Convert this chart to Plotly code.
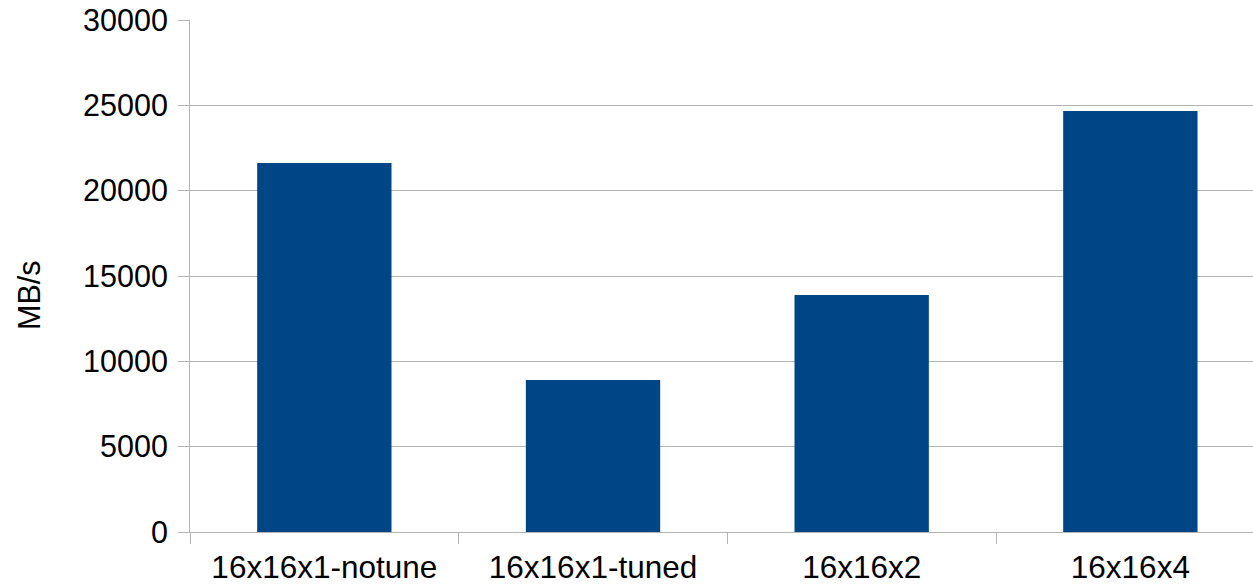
import plotly.graph_objects as go

# Measured throughput per configuration
configs = ["16x16x1-notune", "16x16x1-tuned", "16x16x2", "16x16x4"]
throughput_mbs = [21620, 8900, 13890, 24670]

y_ticks = [0, 5000, 10000, 15000, 20000, 25000, 30000]

BAR_COLOR = "#004586"
GRID_COLOR = "#b3b3b3"
FONT = dict(family="Liberation Sans, Arial, sans-serif", size=30.5, color="#000000")
XFONT = dict(FONT, size=31.5)

fig = go.Figure(
    go.Bar(
        x=configs,
        y=throughput_mbs,
        width=0.5,
        marker=dict(color=BAR_COLOR, line=dict(width=0)),
    )
)

fig.update_layout(
    width=1253,
    height=585,
    margin=dict(l=190, r=0, t=20, b=53),
    paper_bgcolor="white",
    plot_bgcolor="white",
    font=FONT,
    showlegend=False,
    bargap=0.5,
)

fig.update_xaxes(
    type="category",
    range=[-0.5, 3.4565],
    tickson="boundaries",
    ticks="outside",
    ticklen=11,
    tickcolor=GRID_COLOR,
    tickwidth=1,
    showline=True,
    linecolor=GRID_COLOR,
    linewidth=1,
    showgrid=False,
    tickfont=XFONT,
    ticklabelstandoff=7,
    automargin=False,
)

fig.update_yaxes(
    range=[0, 30000],
    tickvals=y_ticks,
    ticktext=[str(v) for v in y_ticks],
    ticks="outside",
    ticklen=11,
    tickcolor=GRID_COLOR,
    tickwidth=1,
    showline=True,
    linecolor=GRID_COLOR,
    linewidth=1,
    showgrid=True,
    gridcolor=GRID_COLOR,
    gridwidth=1,
    zeroline=False,
    tickfont=FONT,
    ticklabelstandoff=4,
    automargin=False,
)

# Axis title placed as a rotated annotation
fig.add_annotation(
    text="MB/s",
    xref="paper",
    yref="paper",
    x=-190 / 1063 + 29 / 1063,
    y=(532 - 296) / 512,
    textangle=-90,
    showarrow=False,
    font=FONT,
    xanchor="center",
    yanchor="middle",
)

fig.write_html("out.html")
